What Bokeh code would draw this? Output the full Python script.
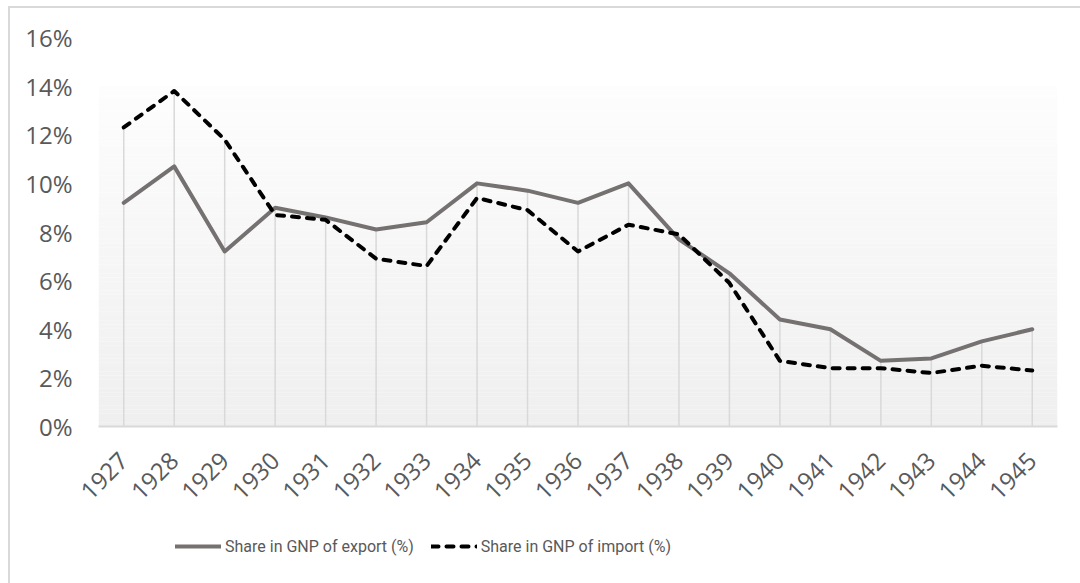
import numpy as np
from bokeh.plotting import figure
from bokeh.layouts import column
from bokeh.models import Legend, LegendItem, FixedTicker, Range1d
from bokeh.embed import file_html
from bokeh.resources import INLINE

years = ["1927", "1928", "1929", "1930", "1931", "1932", "1933", "1934", "1935", "1936",
         "1937", "1938", "1939", "1940", "1941", "1942", "1943", "1944", "1945"]
export_share = [9.2, 10.7, 7.2, 9.0, 8.6, 8.1, 8.4, 10.0, 9.7, 9.2,
                10.0, 7.7, 6.3, 4.4, 4.0, 2.7, 2.8, 3.5, 4.0]
import_share = [12.3, 13.8, 11.8, 8.7, 8.5, 6.9, 6.6, 9.4, 8.9, 7.2,
                8.3, 7.9, 5.9, 2.7, 2.4, 2.4, 2.2, 2.5, 2.3]
y_ticks = [0, 2, 4, 6, 8, 10, 12, 14, 16]
y_tick_labels = ["0%", "2%", "4%", "6%", "8%", "10%", "12%", "14%", "16%"]
series_names = ["Share in GNP of export (%)", "Share in GNP of import (%)"]

x = list(range(len(years)))
drop_top = [max(a, b) for a, b in zip(export_share, import_share)]

EXP_STYLE = dict(line_color="#767171", line_width=4, line_join="round", line_cap="round")
IMP_STYLE = dict(line_color="black", line_width=4, line_dash="7 8", line_join="round", line_cap="round")

p = figure(width=1070, height=520, output_backend="svg", toolbar_location=None,
           x_range=Range1d(-0.5, len(years) - 0.5), y_range=Range1d(0, 16),
           min_border_left=88, min_border_right=23, min_border_top=29, min_border_bottom=102,
           background_fill_color="white", border_fill_color="white", outline_line_color=None)

# gradient background of plot area
n_bands = 80
grad_top = 14.0
edges = np.linspace(0, grad_top, n_bands + 1)
c_bottom = np.array([239, 239, 239])
c_top = np.array([253, 253, 253])
cols = []
for i in range(n_bands):
    t = (i + 0.5) / n_bands
    c = (c_bottom + (c_top - c_bottom) * t).round().astype(int)
    cols.append("#%02x%02x%02x" % tuple(c))
p.quad(left=-0.5, right=len(years) - 0.5, bottom=edges[:-1], top=edges[1:],
       fill_color=cols, line_color=None)

# drop lines
p.segment(x0=x, y0=0, x1=x, y1=drop_top, line_color="#d9d9d9", line_width=1.5)

p.line(x, export_share, **EXP_STYLE)
p.line(x, import_share, **IMP_STYLE)

p.xgrid.grid_line_color = None
p.ygrid.grid_line_color = None

p.xaxis.ticker = FixedTicker(ticks=x)
p.xaxis.major_label_overrides = {i: y for i, y in enumerate(years)}
p.xaxis.major_label_orientation = np.pi / 4
p.xaxis.axis_line_color = "#d9d9d9"
p.xaxis.axis_line_width = 2
p.xaxis.major_tick_line_color = None
p.xaxis.minor_tick_line_color = None
p.xaxis.major_tick_out = 0
p.xaxis.major_label_standoff = 30
p.xaxis.major_label_text_font = "Open Sans"
p.xaxis.major_label_text_font_size = "24px"
p.xaxis.major_label_text_color = "#595959"

p.yaxis.ticker = FixedTicker(ticks=y_ticks)
p.yaxis.major_label_overrides = {t: l for t, l in zip(y_ticks, y_tick_labels)}
p.yaxis.axis_line_color = None
p.yaxis.major_tick_line_color = None
p.yaxis.minor_tick_line_color = None
p.yaxis.major_tick_out = 0
p.yaxis.major_label_standoff = 26
p.yaxis.major_label_text_font = "Open Sans"
p.yaxis.major_label_text_font_size = "24px"
p.yaxis.major_label_text_color = "#595959"

# legend strip (its frame is aligned with the chart frame by the column layout)
pl = figure(width=1070, height=55, output_backend="svg", toolbar_location=None,
            x_range=Range1d(-100, -99), y_range=Range1d(-100, -99),
            x_axis_location=None, y_axis_location=None,
            min_border_left=0, min_border_right=0, min_border_top=0, min_border_bottom=0,
            background_fill_color="white", border_fill_color="white", outline_line_color=None)
pl.xgrid.grid_line_color = None
pl.ygrid.grid_line_color = None
le = pl.line(x, export_share, **EXP_STYLE)
li = pl.line(x, import_share, **IMP_STYLE)
legend = Legend(items=[LegendItem(label=series_names[0], renderers=[le]),
                       LegendItem(label=series_names[1], renderers=[li])],
                orientation="horizontal", location=(77, 27),
                glyph_width=46, glyph_height=20, label_standoff=4, spacing=17,
                padding=0, margin=0,
                label_text_font="Roboto", label_text_font_size="16px",
                label_text_color="#595959", border_line_color=None,
                background_fill_alpha=0)
pl.add_layout(legend, "center")

layout = column(p, pl, spacing=0,
                styles={"border-top": "2px solid #d9d9d9", "border-left": "2px solid #d9d9d9",
                        "margin-left": "8px", "margin-top": "6px"})

open("out.html", "w").write(file_html(layout, INLINE))
